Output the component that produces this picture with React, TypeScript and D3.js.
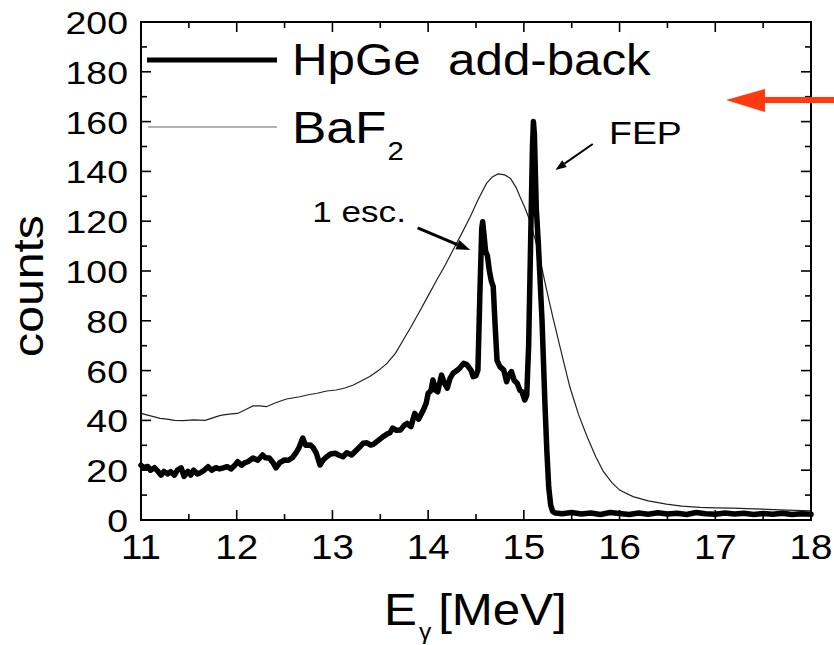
import React from "react";
import * as d3 from "d3";

// ---- data ----
const xTickValues = [11, 12, 13, 14, 15, 16, 17, 18];
const yTickValues = [0, 20, 40, 60, 80, 100, 120, 140, 160, 180, 200];

const seriesNames = ["HpGe\u00A0\u00A0add-back", "BaF"];

// HpGe add-back spectrum: [E (MeV), counts]
const hpge: [number, number][] = [
  [11.0, 22], [11.03, 21], [11.07, 21.5], [11.1, 20], [11.14, 21], [11.18, 19.4],
  [11.21, 18], [11.24, 19.5], [11.28, 18.5], [11.31, 19.4], [11.35, 18], [11.38, 20],
  [11.42, 20.9], [11.45, 17.5], [11.49, 19.5], [11.52, 18], [11.55, 20], [11.59, 18.5],
  [11.62, 19], [11.66, 20], [11.7, 21.4], [11.74, 20], [11.78, 21], [11.82, 20.5],
  [11.86, 20.9], [11.9, 21.4], [11.94, 20.5], [11.98, 22], [12.01, 23.4], [12.05, 22],
  [12.08, 22.9], [12.12, 23.5], [12.17, 24.9], [12.22, 24], [12.27, 26.1], [12.3, 25],
  [12.34, 24.9], [12.38, 23], [12.41, 20.9], [12.45, 23], [12.5, 24.1], [12.54, 24],
  [12.58, 25], [12.62, 27], [12.65, 29], [12.69, 32.9], [12.72, 30], [12.77, 30.1],
  [12.8, 29], [12.83, 27], [12.87, 22.1], [12.9, 24], [12.94, 25.4], [12.98, 26.5],
  [13.03, 26.8], [13.07, 26], [13.11, 25.4], [13.15, 27], [13.2, 26.1], [13.25, 28],
  [13.29, 29.5], [13.32, 30.8], [13.36, 31], [13.4, 30.1], [13.43, 30.5], [13.48, 32],
  [13.53, 33.5], [13.57, 34.5], [13.6, 35], [13.63, 36.9], [13.67, 36], [13.71, 36.1],
  [13.75, 38], [13.78, 38.8], [13.82, 37.5], [13.86, 42.8], [13.9, 40.5], [13.95, 44.2],
  [13.98, 47], [14.0, 50.9], [14.03, 52], [14.05, 56.2], [14.08, 52], [14.1, 51.5],
  [14.12, 55], [14.14, 58.2], [14.17, 55], [14.2, 53], [14.23, 57], [14.26, 58.9],
  [14.3, 60], [14.33, 61], [14.37, 62.9], [14.4, 62.5], [14.42, 61.6], [14.45, 60],
  [14.47, 57.6], [14.5, 58], [14.52, 60.2], [14.54, 90], [14.56, 117], [14.57, 119.8],
  [14.58, 116], [14.6, 108], [14.62, 106], [14.64, 100], [14.66, 96], [14.68, 93.7],
  [14.7, 78], [14.72, 64], [14.75, 61.6], [14.79, 60.2], [14.82, 55.5], [14.84, 58],
  [14.87, 59.6], [14.9, 56], [14.93, 54.9], [14.96, 52], [14.98, 51.5], [15.01, 48.2],
  [15.03, 50], [15.05, 70], [15.07, 110], [15.09, 150], [15.1, 160], [15.11, 155],
  [15.13, 125], [15.15, 112], [15.17, 96], [15.19, 80], [15.22, 47], [15.24, 28],
  [15.26, 13], [15.28, 6], [15.3, 3.5], [15.33, 2.8], [15.4, 2.5], [15.5, 3],
  [15.6, 2.4], [15.7, 2.8], [15.8, 2.2], [15.9, 3], [16.0, 2.6], [16.1, 2.2],
  [16.2, 2.8], [16.3, 2.3], [16.4, 2.9], [16.5, 2.4], [16.6, 2.7], [16.7, 2.2],
  [16.8, 3], [16.9, 2.5], [17.0, 2.3], [17.1, 2.8], [17.2, 2.4], [17.3, 2.7],
  [17.4, 2.2], [17.5, 2.6], [17.6, 2.3], [17.7, 2.7], [17.8, 2.2], [17.9, 2.5], [18.0, 2.3],
];

// BaF2 spectrum: [E (MeV), counts]
const baf2: [number, number][] = [
  [11.0, 42.8], [11.1, 41.8], [11.2, 40.8], [11.27, 40.5], [11.35, 40], [11.44, 39.9],
  [11.55, 40.2], [11.67, 40], [11.75, 41], [11.83, 42], [11.92, 42.5], [12.01, 42.8],
  [12.1, 44.5], [12.17, 45.8], [12.24, 45.8], [12.31, 45.5], [12.4, 47], [12.52, 48.6],
  [12.66, 49.5], [12.75, 50.3], [12.84, 50.9], [12.94, 51.8], [13.04, 52.2], [13.13, 53],
  [13.22, 54.2], [13.3, 55.8], [13.39, 57.6], [13.48, 60], [13.57, 62.9], [13.66, 67],
  [13.74, 72.3], [13.82, 77.5], [13.9, 83], [14.0, 90], [14.09, 96.4], [14.18, 102.5],
  [14.26, 108.4], [14.35, 115], [14.44, 121.8], [14.52, 128.5], [14.61, 135.2], [14.67, 137.8],
  [14.73, 139], [14.8, 138.6], [14.86, 137.2], [14.92, 133.5], [14.96, 129.8], [15.01, 125.5],
  [15.06, 120.5], [15.12, 112.5], [15.17, 104.4], [15.24, 92], [15.31, 80.3], [15.4, 66],
  [15.48, 53.5], [15.57, 42.5], [15.66, 33.5], [15.75, 25.5], [15.83, 19.5], [15.92, 15],
  [16.0, 12], [16.14, 9.4], [16.3, 7.7], [16.49, 6.4], [16.65, 5.6], [16.84, 5.1],
  [17.0, 4.9], [17.19, 4.8], [17.4, 4.5], [17.54, 4.3], [17.75, 4.0], [18.0, 3.7],
];

// annotations in data coordinates: [tailE, tailCounts, tipE, tipCounts]
const escArrow = [13.89, 117.3, 14.44, 108.4];
const fepArrow = [15.72, 151, 15.33, 140.6];
const escLabel = { text: "1 esc.", e: 12.79, c: 119.7 };
const fepLabel = { text: "FEP", e: 15.89, c: 151 };

// ---- layout ----
const W = 834;
const H = 645;
const M = { left: 141, right: 811, top: 22, bottom: 520 };
const FONT = "'Liberation Sans', Arial, Helvetica, sans-serif";
const SX = 1.17;

function SText({ x, y, size, anchor = "start", sx = SX, children, rotate = 0 }: any) {
  return (
    <text
      transform={`translate(${x},${y}) rotate(${rotate}) scale(${sx},1)`}
      fontFamily={FONT}
      fontSize={size}
      textAnchor={anchor}
      fill="#000"
    >
      {children}
    </text>
  );
}

function Arrow({ x1, y1, x2, y2, w, head, headW }: any) {
  const ang = Math.atan2(y2 - y1, x2 - x1);
  const bx = x2 - head * Math.cos(ang);
  const by = y2 - head * Math.sin(ang);
  const px = -Math.sin(ang) * headW;
  const py = Math.cos(ang) * headW;
  return (
    <g>
      <line x1={x1} y1={y1} x2={bx} y2={by} stroke="#000" strokeWidth={w} />
      <polygon points={`${x2},${y2} ${bx + px},${by + py} ${bx - px},${by - py}`} fill="#000" />
    </g>
  );
}

export default function App() {
  const x = d3.scaleLinear().domain([11, 18]).range([M.left, M.right]);
  const y = d3.scaleLinear().domain([0, 200]).range([M.bottom, M.top]);
  const line = d3
    .line<[number, number]>()
    .x((d) => x(d[0]))
    .y((d) => y(d[1]));

  const xMinor = d3.range(11, 18.001, 0.5);
  const yMinor = d3.range(0, 200.001, 10);

  const ticks: JSX.Element[] = [];
  xMinor.forEach((v, i) => {
    const major = Math.abs(v - Math.round(v)) < 1e-6;
    const L = major ? 10 : 6;
    const px = x(v);
    ticks.push(<line key={`xb${i}`} x1={px} x2={px} y1={M.bottom} y2={M.bottom - L} stroke="#000" strokeWidth={1.6} />);
    ticks.push(<line key={`xt${i}`} x1={px} x2={px} y1={M.top} y2={M.top + L} stroke="#000" strokeWidth={1.6} />);
  });
  yMinor.forEach((v, i) => {
    const major = v % 20 === 0;
    const L = major ? 10 : 6;
    const py = y(v);
    ticks.push(<line key={`yl${i}`} x1={M.left} x2={M.left + L} y1={py} y2={py} stroke="#000" strokeWidth={1.6} />);
    ticks.push(<line key={`yr${i}`} x1={M.right} x2={M.right - L} y1={py} y2={py} stroke="#000" strokeWidth={1.6} />);
  });

  return (
    <svg
      width={W}
      height={H}
      style={{ position: "absolute", left: 0, top: 0, background: "#fff" }}
    >
      <rect x={0} y={0} width={W} height={H} fill="#fff" />
      {/* data */}
      <path d={line(baf2) || ""} fill="none" stroke="#222" strokeWidth={1.2} />
      <path d={line(hpge) || ""} fill="none" stroke="#000" strokeWidth={5.5} strokeLinejoin="round" strokeLinecap="round" />

      {/* frame */}
      <rect x={M.left} y={M.top} width={M.right - M.left} height={M.bottom - M.top} fill="none" stroke="#000" strokeWidth={2} />
      {ticks}

      {/* tick labels */}
      {xTickValues.map((v) => (
        <SText key={`xl${v}`} x={x(v)} y={559} size={35} anchor="middle" sx={1.1}>
          {v}
        </SText>
      ))}
      {yTickValues.map((v) => (
        <SText key={`yl${v}`} x={128} y={y(v) + 12} size={32} anchor="end">
          {v}
        </SText>
      ))}

      {/* axis titles */}
      <SText x={43} y={286} size={43} anchor="middle" rotate={-90} sx={1.12}>
        counts
      </SText>
      <g transform={`translate(384,625) scale(1.12,1)`}>
        <text fontFamily={FONT} fontSize={44} fill="#000">
          E
          <tspan fontSize={22} dy={14} dx={2}>γ</tspan>
          <tspan dy={-14} dx={6}>[MeV]</tspan>
        </text>
      </g>

      {/* legend */}
      <line x1={147} x2={277} y1={60} y2={60} stroke="#000" strokeWidth={5} />
      <SText x={292} y={75} size={44} sx={1.12}>
        {seriesNames[0]}
      </SText>
      <line x1={148} x2={277} y1={127} y2={127} stroke="#666" strokeWidth={1.2} />
      <g transform={`translate(292,143) scale(${SX},1)`}>
        <text fontFamily={FONT} fontSize={44} fill="#000">
          {seriesNames[1]}
          <tspan fontSize={25} dy={17} dx={1}>2</tspan>
        </text>
      </g>

      {/* annotations */}
      <SText x={x(escLabel.e)} y={y(escLabel.c)} size={30}>
        {escLabel.text}
      </SText>
      <Arrow x1={x(escArrow[0])} y1={y(escArrow[1])} x2={x(escArrow[2])} y2={y(escArrow[3])} w={3} head={14} headW={5} />
      <SText x={x(fepLabel.e)} y={y(fepLabel.c)} size={32}>
        {fepLabel.text}
      </SText>
      <Arrow x1={x(fepArrow[0])} y1={y(fepArrow[1])} x2={x(fepArrow[2])} y2={y(fepArrow[3])} w={2} head={11} headW={4} />

      {/* red marker arrow */}
      <line x1={834} x2={762} y1={100} y2={100} stroke="#ff3a10" strokeWidth={6} />
      <polygon points={`726,100 765,89 765,112`} fill="#ff3a10" />
    </svg>
  );
}
